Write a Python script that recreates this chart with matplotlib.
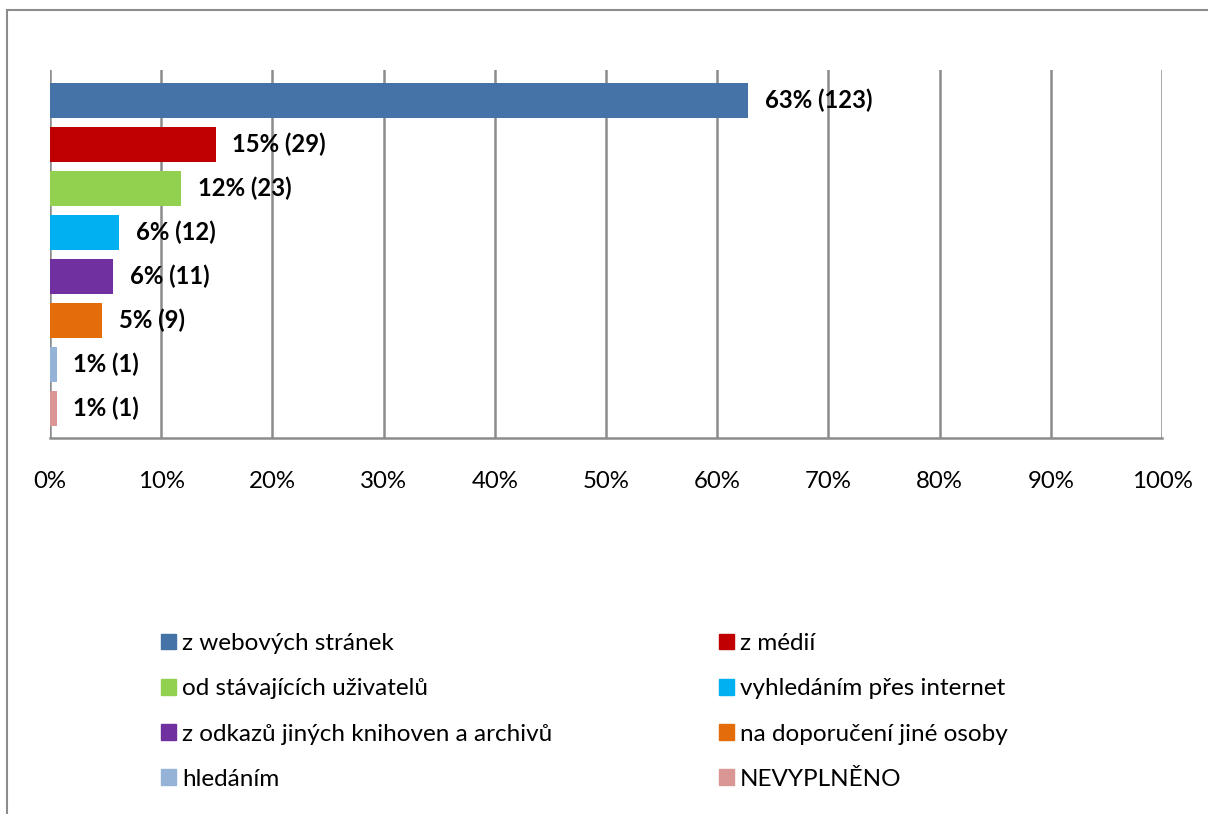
import matplotlib.pyplot as plt
import matplotlib.patches as mpatches
from matplotlib.ticker import FuncFormatter

# data
categories = ["z webových stránek", "z médií", "od stávajících uživatelů",
              "vyhledáním přes internet", "z odkazů jiných knihoven a archivů",
              "na doporučení jiné osoby", "hledáním", "NEVYPLNĚNO"]
counts = [123, 29, 23, 12, 11, 9, 1, 1]
percents = [62.8, 14.9, 11.8, 6.2, 5.7, 4.7, 0.6, 0.6]
bar_labels = ["63% (123)", "15% (29)", "12% (23)", "6% (12)", "6% (11)",
              "5% (9)", "1% (1)", "1% (1)"]
colors = ["#4572A7", "#C00000", "#92D050", "#00B0F0", "#7030A0",
          "#E46C0A", "#95B3D7", "#D99694"]
xticks = [0, 10, 20, 30, 40, 50, 60, 70, 80, 90, 100]

plt.rcParams['font.family'] = ['Lato', 'DejaVu Sans']

W, H = 1208, 814
fig = plt.figure(figsize=(W / 100, H / 100), dpi=100)

# outer chart frame (cut off on right and bottom)
fig.patches.append(mpatches.Rectangle((7 / W, -0.05), 1.1, 1 - 10 / H + 0.05,
                                      transform=fig.transFigure, fill=False,
                                      edgecolor="#8c8c8c", linewidth=1.5))

ax = fig.add_axes([50 / W, 1 - 438 / H, 1112 / W, 368 / H])
ypos = list(range(len(categories)))
ax.barh(ypos, percents, height=0.8, color=colors, zorder=3)
for y, p, lab in zip(ypos, percents, bar_labels):
    ax.text(p + 1.5, y, lab, va="center", ha="left", fontsize=17.2,
            fontweight="bold", zorder=4)

ax.set_xlim(0, 100)
ax.set_ylim(7.67, -0.69)
ax.set_xticks(xticks)
ax.xaxis.set_major_formatter(FuncFormatter(lambda v, _: f"{v:.0f}%"))
ax.set_yticks([])
ax.tick_params(axis="x", length=0, pad=23.5, labelsize=17.3)
ax.grid(axis="x", color="#8c8c8c", linewidth=1.8, zorder=0)
for s in ["top", "right", "left"]:
    ax.spines[s].set_visible(False)
ax.spines["bottom"].set_color("#8c8c8c")
ax.spines["bottom"].set_linewidth(1.8)

# legend in two columns, filled row by row
handles = [mpatches.Patch(color=c) for c in colors]
kw = dict(frameon=False, fontsize=17.5, handlelength=0.62, handleheight=0.62,
          handletextpad=0.25, labelspacing=1.0, borderpad=0, borderaxespad=0)
leg1 = fig.legend(handles[0::2], categories[0::2], loc="upper left",
                  bbox_to_anchor=(161 / W, 1 - 633 / H), **kw)
leg2 = fig.legend(handles[1::2], categories[1::2], loc="upper left",
                  bbox_to_anchor=(719 / W, 1 - 633 / H), **kw)

fig.savefig("out.png", dpi=100)
